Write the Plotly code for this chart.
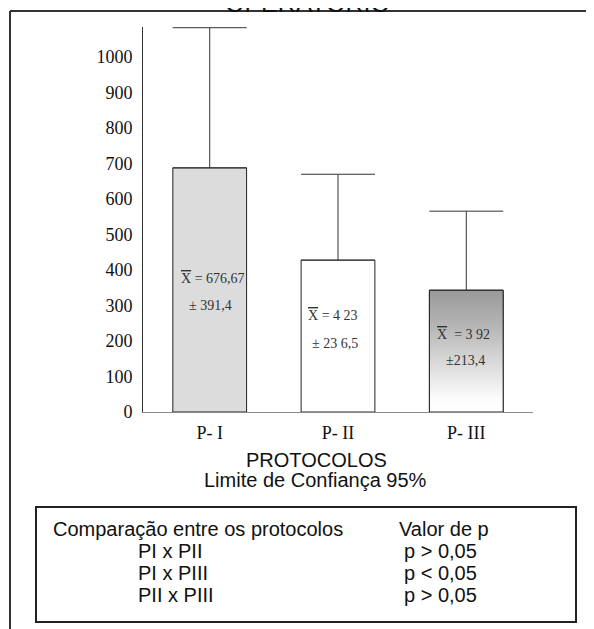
import plotly.graph_objects as go

# ---- data ----
categories = ["P- I", "P- II", "P- III"]
means = [688, 428, 343]
errors = [395, 242, 223]
mean_labels = [" = 676,67", " = 4 23", "  = 3 92"]
sd_labels = ["± 391,4", "± 23 6,5", "±213,4"]
comparisons = ["PI x PII", "PI x PIII", "PII x PIII"]
p_values = ["p > 0,05", "p < 0,05", "p > 0,05"]
y_ticks = [0, 100, 200, 300, 400, 500, 600, 700, 800, 900, 1000]

# page has an 8px body margin; figure is sized so it fills the 594x629 window
OFF = 8
W, H = 594 - OFF, 629 - OFF
L = 143 - OFF          # plot left edge (reference px 143)
T = 27 - OFF           # plot top edge (reference px 27)
R = W - (533 - OFF)    # plot right edge (reference px 533)
B = H - (412 - OFF)    # plot bottom edge (reference px 412)
PW, PH = W - L - R, H - T - B


def px_x(px):
    return (px - OFF - L) / PW


def px_y(py):
    return (H - B - (py - OFF)) / PH


xpos = list(range(len(categories)))
bar_w = 0.575
fills = ["#dcdcdc", "#ffffff", "rgba(0,0,0,0)"]

fig = go.Figure()
fig.add_trace(go.Bar(
    x=xpos, y=means, width=bar_w,
    marker=dict(color=fills, line=dict(color="#222", width=1)),
    error_y=dict(type="data", symmetric=False, array=errors,
                 arrayminus=[0] * len(errors), color="#333", thickness=1, width=37),
    showlegend=False, hoverinfo="skip",
))

# gradient fill for the third bar
i = 2
x0, x1 = xpos[i] - bar_w / 2, xpos[i] + bar_w / 2
fig.add_trace(go.Scatter(
    x=[x0, x1, x1, x0, x0], y=[0, 0, means[i], means[i], 0],
    mode="lines", fill="toself",
    line=dict(color="#222", width=1),
    fillgradient=dict(type="vertical",
                      colorscale=[[0, "#ffffff"], [0.12, "#fbfbfb"], [0.45, "#d4d4d4"],
                                  [0.7, "#b6b6b6"], [1, "#999999"]]),
    showlegend=False, hoverinfo="skip",
))

serif = "Liberation Serif, Times New Roman, serif"
sans = "Liberation Sans, Arial, sans-serif"

ann = []
# labels inside bars
mean_pos = [(213, 278), (333, 315), (463, 334)]
sd_pos = [(210, 305), (335, 343), (465, 360)]
for k in range(len(categories)):
    ann.append(dict(xref="paper", yref="paper", x=px_x(mean_pos[k][0]), y=px_y(mean_pos[k][1]),
                    text='<span style="text-decoration:overline">X</span>' + mean_labels[k],
                    showarrow=False, font=dict(family=serif, size=14, color="#333"),
                    xanchor="center", yanchor="middle"))
    ann.append(dict(xref="paper", yref="paper", x=px_x(sd_pos[k][0]), y=px_y(sd_pos[k][1]),
                    text=sd_labels[k], showarrow=False,
                    font=dict(family=serif, size=14, color="#333"),
                    xanchor="center", yanchor="middle"))

# axis title
ann.append(dict(xref="paper", yref="paper", x=px_x(316), y=px_y(460), text="PROTOCOLOS",
                showarrow=False, font=dict(family=sans, size=20, color="#111"),
                xanchor="center", yanchor="middle"))
ann.append(dict(xref="paper", yref="paper", x=px_x(315), y=px_y(480),
                text="Limite de Confiança 95%",
                showarrow=False, font=dict(family=sans, size=20, color="#111"),
                xanchor="center", yanchor="middle"))

# cut-off title
ann.append(dict(xref="paper", yref="paper", x=px_x(307), y=px_y(3), text="OPERATÓRIO",
                showarrow=False, font=dict(family=sans, size=25, color="#111"),
                xanchor="center", yanchor="middle"))

# table
ann.append(dict(xref="paper", yref="paper", x=px_x(51), y=px_y(529),
                text="Comparação entre os protocolos", showarrow=False,
                font=dict(family=sans, size=20, color="#111"), xanchor="left", yanchor="middle"))
ann.append(dict(xref="paper", yref="paper", x=px_x(397), y=px_y(529),
                text="Valor de p", showarrow=False,
                font=dict(family=sans, size=20, color="#111"), xanchor="left", yanchor="middle"))
row_y = [551, 573, 595]
for k in range(len(comparisons)):
    ann.append(dict(xref="paper", yref="paper", x=px_x(136), y=px_y(row_y[k]),
                    text=comparisons[k], showarrow=False,
                    font=dict(family=sans, size=20, color="#111"), xanchor="left", yanchor="middle"))
    ann.append(dict(xref="paper", yref="paper", x=px_x(402), y=px_y(row_y[k]),
                    text=p_values[k], showarrow=False,
                    font=dict(family=sans, size=20, color="#111"), xanchor="left", yanchor="middle"))

shapes = [
    # outer frame (left + top)
    dict(type="line", xref="paper", yref="paper", x0=px_x(10), x1=px_x(10),
         y0=px_y(11), y1=px_y(640), line=dict(color="#333", width=2)),
    dict(type="line", xref="paper", yref="paper", x0=px_x(10), x1=px_x(600),
         y0=px_y(11), y1=px_y(11), line=dict(color="#333", width=2)),
    # table box
    dict(type="rect", xref="paper", yref="paper", x0=px_x(36), x1=px_x(576),
         y0=px_y(507), y1=px_y(622), line=dict(color="#222", width=2)),
]

fig.update_layout(
    width=W, height=H,
    margin=dict(l=L, r=R, t=T, b=B, pad=0),
    paper_bgcolor="white", plot_bgcolor="white",
    xaxis=dict(range=[-0.52, 2.52], tickvals=xpos, ticktext=categories,
               showgrid=False, zeroline=False, showline=True, linecolor="#888", linewidth=1,
               ticks="", tickfont=dict(family=serif, size=18, color="#111"), ticklabelstandoff=4,
               fixedrange=True),
    yaxis=dict(range=[0, 1085], tickvals=y_ticks, showgrid=False, zeroline=False,
               showline=True, linecolor="#333", linewidth=1, ticks="",
               tickfont=dict(family=serif, size=18, color="#111"), ticklabelstandoff=6,
               fixedrange=True),
    annotations=ann, shapes=shapes,
    bargap=0.4,
)

fig.write_html("out.html")
